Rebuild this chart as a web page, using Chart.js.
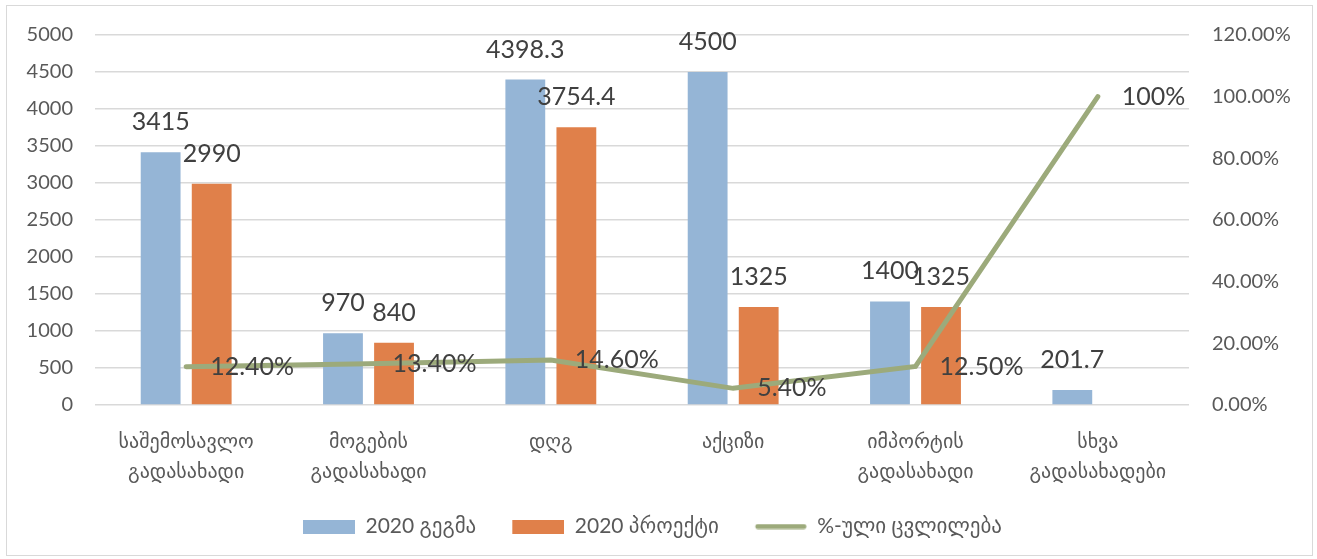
<!DOCTYPE html>
<html>
<head>
<meta charset="utf-8">
<script src="https://cdn.jsdelivr.net/npm/chart.js@4/dist/chart.umd.min.js"></script>
<style>
  html, body { margin: 0; padding: 0; background: #fff; }
  #wrap { position: relative; width: 1317px; height: 559px; }
  #frame { position: absolute; left: 6px; top: 5px; width: 1305px; height: 549px; border: 1px solid #d9d9d9; pointer-events: none; }
</style>
</head>
<body>
<div id="wrap">
  <canvas id="chart" width="1317" height="559"></canvas>
  <div id="frame"></div>
</div>
<script>
const categories = [
  ['საშემოსავლო', 'გადასახადი'],
  ['მოგების', 'გადასახადი'],
  'დღგ',
  'აქციზი',
  ['იმპორტის', 'გადასახადი'],
  ['სხვა', 'გადასახადები'],
];

const plan2020 = [3415, 970, 4398.3, 4500, 1400, 201.7];
const project2020 = [2990, 840, 3754.4, 1325, 1325, null];
const percentChange = [12.4, 13.4, 14.6, 5.4, 12.5, 100];
const percentLabels = ['12.40%', '13.40%', '14.60%', '5.40%', '12.50%', '100%'];

const FONT = "Lato, 'DejaVu Sans', sans-serif";
const BLUE = '#95b5d6';
const ORANGE = '#e0804a';
const GREEN = '#9caa7b';

// legend markers: blank margin on the left, then the swatch
const LEGEND_GAP = 22;
const SWATCH_W = 52;
const makeSwatch = (color, isLine) => {
  const c = document.createElement('canvas');
  c.width = LEGEND_GAP + SWATCH_W;
  c.height = isLine ? 6 : 14;
  const g = c.getContext('2d');
  if (isLine) {
    g.strokeStyle = color;
    g.lineWidth = 5;
    g.lineCap = 'round';
    g.beginPath();
    g.moveTo(LEGEND_GAP + 3, 3);
    g.lineTo(c.width - 3, 3);
    g.stroke();
  } else {
    g.fillStyle = color;
    g.fillRect(LEGEND_GAP, 0, SWATCH_W, 14);
  }
  return c;
};

// draws the value labels next to bars and line points
const valueLabels = {
  id: 'valueLabels',
  afterLayout(chart) {
    // pull legend left so the swatches line up with the reference
    chart.legend.left -= LEGEND_GAP;
    chart.legend.right -= LEGEND_GAP;
  },
  afterDatasetsDraw(chart) {
    const ctx = chart.ctx;
    ctx.save();
    ctx.font = `25px ${FONT}`;
    ctx.fillStyle = '#404040';
    ctx.textBaseline = 'middle';
    chart.data.datasets.forEach((ds, di) => {
      const meta = chart.getDatasetMeta(di);
      meta.data.forEach((el, i) => {
        const v = ds.data[i];
        if (v == null) return;
        if (ds.type === 'line') {
          ctx.textAlign = 'left';
          ctx.fillText(percentLabels[i], el.x + 24, el.y);
        } else {
          ctx.textAlign = 'center';
          ctx.fillText(String(v), el.x, el.y - 30);
        }
      });
    });
    ctx.restore();
  },
};

new Chart(document.getElementById('chart'), {
  type: 'bar',
  data: {
    labels: categories,
    datasets: [
      {
        label: '2020 გეგმა',
        data: plan2020,
        backgroundColor: BLUE,
        yAxisID: 'y',
        order: 1,
      },
      {
        label: '2020 პროექტი',
        data: project2020,
        backgroundColor: ORANGE,
        yAxisID: 'y',
        order: 1,
      },
      {
        type: 'line',
        label: '%-ული ცვლილება',
        data: percentChange,
        borderColor: GREEN,
        backgroundColor: GREEN,
        borderWidth: 5,
        pointRadius: 0,
        borderCapStyle: 'round',
        yAxisID: 'y1',
        order: 0,
      },
    ],
  },
  options: {
    responsive: false,
    animation: false,
    layout: { padding: { left: 10, right: 0, top: 23, bottom: 12 } },
    datasets: {
      bar: { categoryPercentage: 0.56, barPercentage: 0.78 },
    },
    scales: {
      x: {
        grid: { display: false },
        border: { display: false },
        ticks: {
          color: '#595959',
          font: { family: FONT, size: 20, lineHeight: 1.5 },
          padding: 14,
          maxRotation: 0,
          autoSkip: false,
        },
        afterFit: s => { s.height = 97; },
      },
      y: {
        position: 'left',
        min: 0,
        max: 5000,
        grid: { color: '#d9d9d9', lineWidth: 1.5, drawTicks: false },
        border: { display: false },
        ticks: {
          stepSize: 500,
          color: '#595959',
          font: { family: FONT, size: 20 },
          padding: 22,
          callback: v => String(v),
        },
        afterFit: s => { s.width = 85; },
      },
      y1: {
        position: 'right',
        min: 0,
        max: 120,
        grid: { display: false, drawTicks: false },
        border: { display: false },
        ticks: {
          stepSize: 20,
          color: '#595959',
          font: { family: FONT, size: 20 },
          padding: 23,
          callback: v => v.toFixed(2) + '%',
        },
        afterFit: s => { s.width = 128; },
      },
    },
    plugins: {
      legend: {
        position: 'bottom',
        labels: {
          color: '#595959',
          font: { family: FONT, size: 21 },
          usePointStyle: true,
          pointStyleWidth: LEGEND_GAP + SWATCH_W,
          boxHeight: 14,
          padding: 14,
          sort: (a, b) => a.datasetIndex - b.datasetIndex,
          generateLabels: chart => {
            const items = Chart.defaults.plugins.legend.labels.generateLabels(chart);
            items.forEach(it => {
              const ds = chart.data.datasets[it.datasetIndex];
              const isLine = ds.type === 'line';
              it.pointStyle = makeSwatch(isLine ? GREEN : ds.backgroundColor, isLine);
            });
            return items;
          },
        },
      },
      tooltip: { enabled: false },
    },
  },
  plugins: [valueLabels],
});
</script>
</body>
</html>
